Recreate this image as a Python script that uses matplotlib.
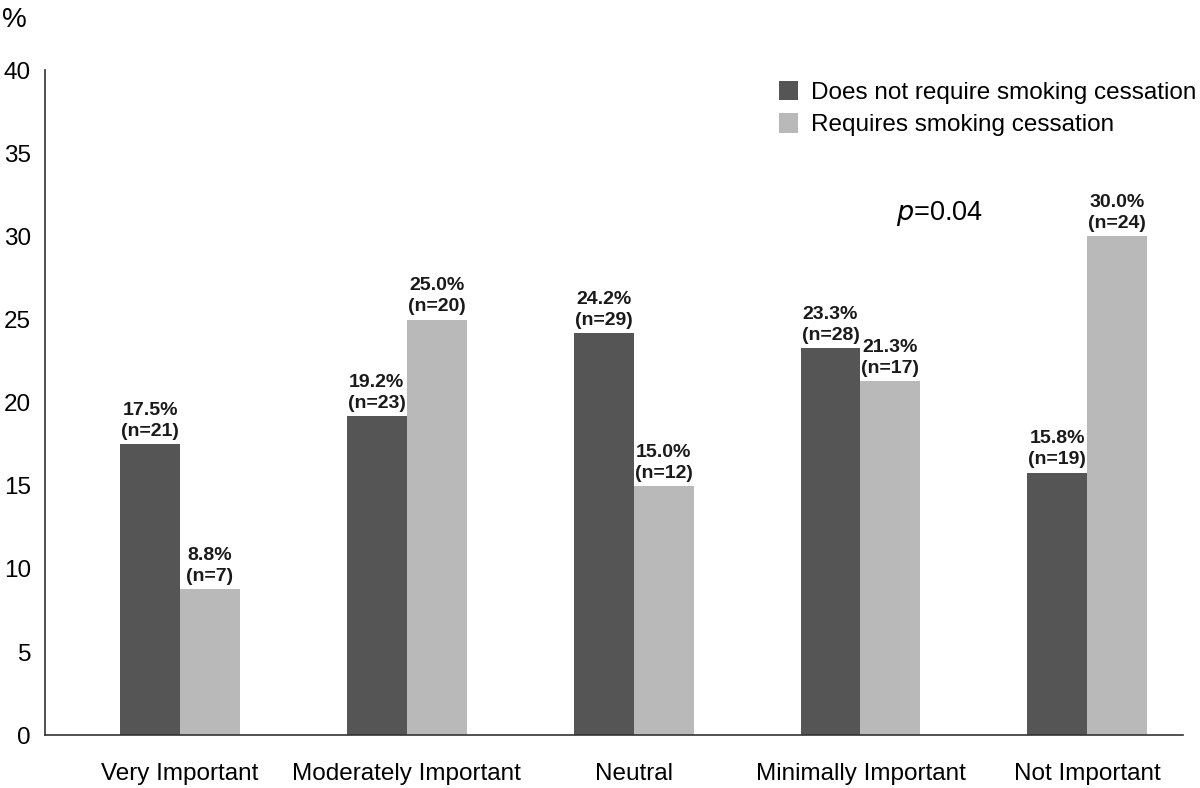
import numpy as np
import matplotlib
matplotlib.use('Agg')
import matplotlib.pyplot as plt

plt.rcParams['font.family'] = ['Liberation Sans', 'DejaVu Sans']

categories = ['Very Important', 'Moderately Important', 'Neutral',
              'Minimally Important', 'Not Important']
no_cess_pct = [17.5, 19.2, 24.2, 23.3, 15.8]
no_cess_n = [21, 23, 29, 28, 19]
cess_pct = [8.8, 25.0, 15.0, 21.3, 30.0]
cess_n = [7, 20, 12, 17, 24]
series_names = ['Does not require smoking cessation',
                'Requires smoking cessation']

DARK = '#555555'
LIGHT = '#b9b9b9'

fig = plt.figure(figsize=(12, 7.88), dpi=100)
ax = fig.add_axes([0.0375, 0.067, 0.948, 0.844])

x = np.arange(len(categories))
w = 0.264
b1 = ax.bar(x - w / 2, no_cess_pct, w, color=DARK, label=series_names[0])
b2 = ax.bar(x + w / 2, cess_pct, w, color=LIGHT, label=series_names[1])

for bars, vals, ns in [(b1, no_cess_pct, no_cess_n), (b2, cess_pct, cess_n)]:
    for r, v, n in zip(bars, vals, ns):
        ax.annotate(f'{v:.1f}%\n(n={n})', (r.get_x() + r.get_width() / 2, v),
                    xytext=(0, 3), textcoords='offset points',
                    ha='center', va='bottom', fontsize=14, fontweight='bold',
                    color='#1a1a1a', linespacing=1.3)

ax.set_xlim(-0.595, 4.42)
ax.set_ylim(0, 40)
ax.set_yticks(np.arange(0, 41, 5))
ax.set_xticks(x)
ax.set_xticklabels(categories, fontsize=17.5)
ax.tick_params(axis='y', length=0, labelsize=17.5, pad=10)
ax.tick_params(axis='x', length=0, pad=20)
for s in ['top', 'right']:
    ax.spines[s].set_visible(False)
for s in ['left', 'bottom']:
    ax.spines[s].set_color('#333333')
    ax.spines[s].set_linewidth(1.2)

fig.text(0.002, 0.975, '%', fontsize=20, ha='left', va='center')
ax.text(3.35, 31.4, r'$p$=0.04', fontsize=19.5, ha='center', va='center',
        math_fontfamily='dejavusans')

ax.legend(loc='upper left', bbox_to_anchor=(0.637, 0.999), frameon=False,
          fontsize=17.5, handlelength=0.75, handleheight=0.85,
          handletextpad=0.55, labelspacing=0.4, borderaxespad=0.0)

fig.savefig('out.png', dpi=100)
